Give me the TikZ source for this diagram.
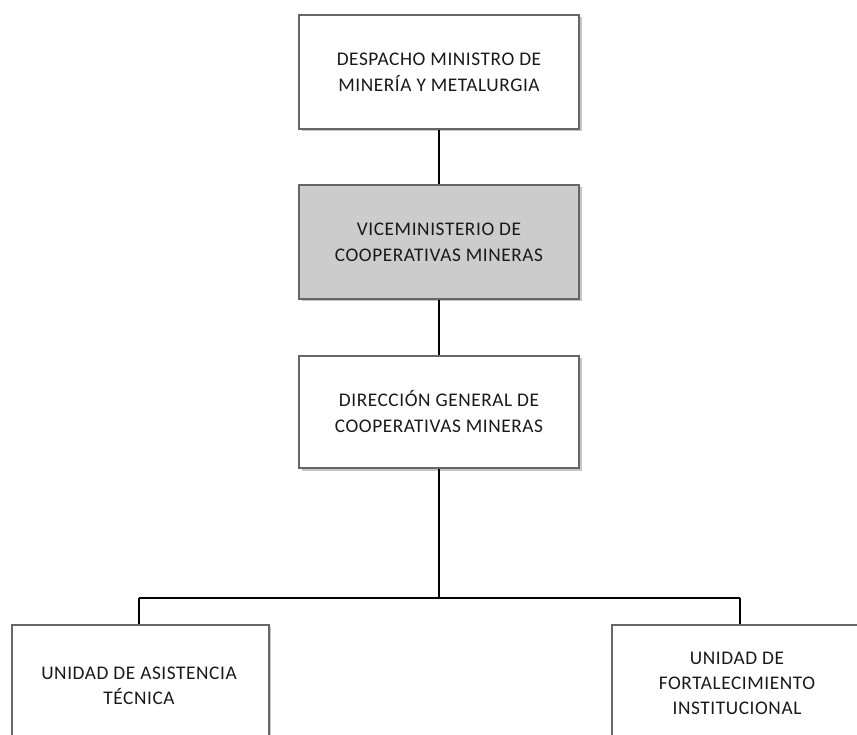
\documentclass[tikz,border=0pt]{standalone}
\usepackage{fontspec}
\setmainfont{Carlito}[LetterSpace=3]
\usetikzlibrary{shadows}
\begin{document}
\begin{tikzpicture}[x=1pt,y=-1pt,
  orgbox/.style={draw=black!60, line width=1.6pt, fill=white, inner sep=0pt,
    drop shadow={opacity=0.45, shadow xshift=2.5pt, shadow yshift=-2.5pt},
    align=center, text=black!90, font=\fontsize{19.3}{26}\selectfont},
  lbl/.style={align=center, text=black!90, font=\fontsize{19.3}{25}\selectfont},
  conn/.style={draw=black, line width=1.1pt}]
\useasboundingbox (0,0) rectangle (857,735);
\clip (0,0) rectangle (857,735);
\node[orgbox, minimum width=280pt, minimum height=114pt] (despacho) at (439,72) {DESPACHO MINISTRO DE\\MINERÍA Y METALURGIA};
\node[orgbox, fill=black!20, minimum width=280pt, minimum height=114pt] (vice) at (439,242) {VICEMINISTERIO DE\\COOPERATIVAS MINERAS};
\node[orgbox, minimum width=280pt, minimum height=112pt] (direccion) at (439,412) {DIRECCIÓN GENERAL DE\\COOPERATIVAS MINERAS};
\node[orgbox, minimum width=257pt, minimum height=140pt, anchor=north west] (asist) at (11,624) {};
\node[orgbox, minimum width=260pt, minimum height=140pt, anchor=north west] (fort) at (611,624) {};
\node[lbl] (asistt) at (139,686) {UNIDAD DE ASISTENCIA\\TÉCNICA};
\node[lbl] (fortt) at (737,683) {UNIDAD DE\\FORTALECIMIENTO\\INSTITUCIONAL};
\coordinate (hl) at (139,598);
\coordinate (hr) at (740,598);
\coordinate (hm) at (439,598);
\draw[conn] (despacho.south) -- (vice.north);
\draw[conn] (vice.south) -- (direccion.north);
\draw[conn] (direccion.south) -- (hm);
\draw[conn] (hl) -- (hr);
\draw[conn] (hl) -- (hl |- asist.north);
\draw[conn] (hr) -- (hr |- fort.north);
\end{tikzpicture}
\end{document}
